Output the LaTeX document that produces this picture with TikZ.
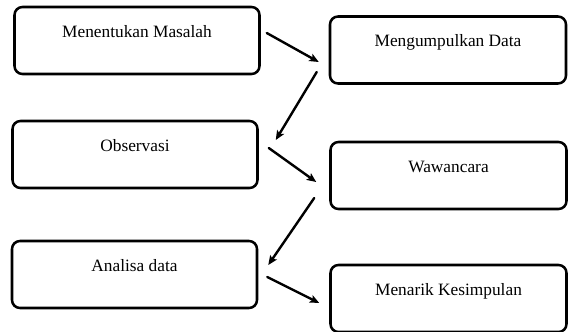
\documentclass[tikz,border=0pt]{standalone}
\usepackage{fontspec}
\setmainfont{Liberation Serif}
\usetikzlibrary{arrows.meta}
\begin{document}
\begin{tikzpicture}[x=0.75pt,y=-0.75pt,line cap=round,line join=round,
  kotak/.style={draw,line width=1.9pt,rounded corners=6pt,inner xsep=0pt,inner ysep=0pt,
    text height=22.5pt,text depth=27.75pt,font=\fontsize{13}{15}\selectfont},
  kiri/.style={kotak,minimum width=183.75pt},
  kanan/.style={kotak,minimum width=177pt},
  panah/.style={->,>={Stealth[length=7pt,width=6pt,inset=1.5pt]},line width=1.8pt}]
\useasboundingbox (0,0) rectangle (568,332);
\node[kiri] (masalah) at (137,40.5) {Menentukan Masalah};
\node[kanan] (data) at (448,50) {Mengumpulkan Data};
\node[kiri] (observasi) at (135,154.5) {Observasi};
\node[kanan] (wawancara) at (448.5,175.5) {Wawancara};
\node[kiri] (analisa) at (134.5,274.5) {Analisa data};
\node[kanan] (simpulan) at (448.5,298.5) {Menarik Kesimpulan};
\draw[panah] ([shift={(6,-7.5)}]masalah.east) -- ([shift={(-10,12)}]data.west);
\draw[panah] ([shift={(-12,22)}]data.west) -- ([shift={(17,-14.5)}]observasi.east);
\draw[panah] ([shift={(10,-6.5)}]observasi.east) -- ([shift={(-13,6.5)}]wawancara.west);
\draw[panah] ([shift={(-15,22.5)}]wawancara.west) -- ([shift={(10,-9.5)}]analisa.east);
\draw[panah] ([shift={(9,2.5)}]analisa.east) -- ([shift={(-10,4.5)}]simpulan.west);
\end{tikzpicture}
\end{document}
